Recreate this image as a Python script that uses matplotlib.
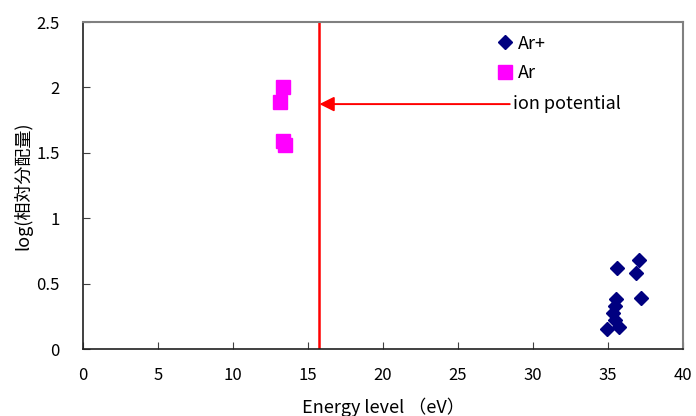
import matplotlib
matplotlib.use("Agg")
import matplotlib.pyplot as plt

plt.rcParams['font.family'] = ['Noto Sans CJK JP', 'DejaVu Sans']

# Ar+ lines (energy eV, log relative population)
arp_x = [35.62, 37.09, 36.85, 37.18, 35.53, 35.47, 35.35, 35.47, 35.75, 34.95]
arp_y = [0.619, 0.682, 0.585, 0.394, 0.385, 0.330, 0.275, 0.224, 0.168, 0.155]

# Ar lines
ar_x = [13.33, 13.13, 13.30, 13.47]
ar_y = [2.00, 1.89, 1.59, 1.56]

ion_potential = 15.76
arrow_y = 1.873
arrow_tail = 28.45

xticks = [0, 5, 10, 15, 20, 25, 30, 35, 40]
yticks = [0, 0.5, 1, 1.5, 2, 2.5]
ytick_labels = ['0', '0.5', '1', '1.5', '2', '2.5']

fig = plt.figure(figsize=(6.96, 4.16), dpi=100)
ax = fig.add_axes([0.1193, 0.1603, 0.8620, 0.7868])

ax.plot(arp_x, arp_y, linestyle='', marker='D', markersize=7.5,
        color='#000080', label='Ar+')
ax.plot(ar_x, ar_y, linestyle='', marker='s', markersize=10,
        color='#ff00ff', label='Ar')

ax.axvline(ion_potential, color='red', linewidth=1.8)
ax.annotate('', xy=(ion_potential, arrow_y), xytext=(arrow_tail, arrow_y),
            arrowprops=dict(arrowstyle='-|>', color='red', lw=1.4,
                            mutation_scale=22, shrinkA=0, shrinkB=0))
ax.text(arrow_tail + 0.25, arrow_y, 'ion potential', fontsize=13,
        va='center', ha='left')

ax.set_xlim(0, 40)
ax.set_ylim(0, 2.5)
ax.set_xticks(xticks)
ax.set_yticks(yticks)
ax.set_yticklabels(ytick_labels)
ax.tick_params(direction='in', length=5, labelsize=12, color='#404040')
ax.tick_params(axis='x', pad=13)
ax.tick_params(axis='y', pad=17)

for s in ['left', 'bottom']:
    ax.spines[s].set_color('#202020')
    ax.spines[s].set_linewidth(1.2)
for s in ['top', 'right']:
    ax.spines[s].set_color('#808080')
    ax.spines[s].set_linewidth(1.5)

ax.set_xlabel('Energy level （eV）', fontsize=13)
ax.xaxis.set_label_coords(0.5, -0.147)
ax.set_ylabel('log(相対分配量)', fontsize=13)
ax.yaxis.set_label_coords(-0.085, 0.5)

ax.legend(loc='upper left', bbox_to_anchor=(0.67, 1.0), frameon=False,
          fontsize=13, handlelength=0.8, handletextpad=0.3, labelspacing=0.62,
          borderaxespad=0.3)

fig.savefig('out.png', dpi=100)
